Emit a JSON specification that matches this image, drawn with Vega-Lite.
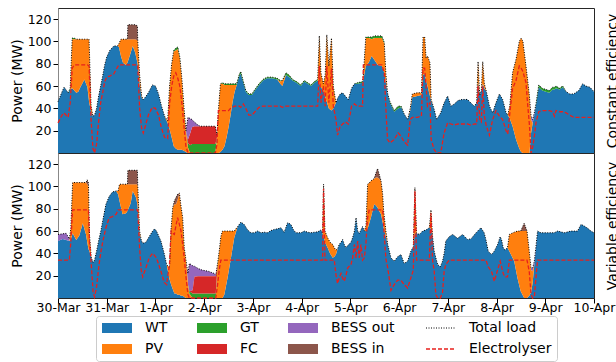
{
"$schema": "https://vega.github.io/schema/vega-lite/v6.json",
"padding": {"left": 9, "top": 7, "right": 0, "bottom": 0},
"datasets": {
"c": [
{"h":0,"WT":46,"Total load":46,"Electrolyser":27},
{"h":2,"WT":55,"Total load":55,"Electrolyser":34},
{"h":3,"WT":59,"Total load":59,"Electrolyser":36},
{"h":5,"WT":54,"Total load":54,"Electrolyser":32},
{"h":6,"WT":57,"GT":1,"Total load":58,"Electrolyser":45},
{"h":7,"WT":58,"PV":44,"GT":1,"Total load":103,"Electrolyser":76},
{"h":8,"WT":56,"PV":46,"GT":1,"Total load":103,"Electrolyser":79},
{"h":9,"WT":54,"PV":48,"Total load":102,"Electrolyser":79},
{"h":10,"WT":55,"PV":47,"Total load":102,"Electrolyser":79},
{"h":11,"WT":59,"PV":43,"Total load":102,"Electrolyser":79},
{"h":13,"WT":66,"PV":36,"Total load":102,"Electrolyser":79},
{"h":14.5,"WT":59,"PV":43,"Total load":102,"Electrolyser":79},
{"h":15.3,"WT":46,"PV":56,"Total load":102,"Electrolyser":78},
{"h":16.3,"WT":37,"PV":5,"Total load":42,"Electrolyser":30},
{"h":17.2,"WT":33,"Total load":33,"Electrolyser":4},
{"h":18,"WT":34,"Total load":34,"Electrolyser":0},
{"h":19,"WT":40,"Total load":40,"Electrolyser":8},
{"h":20,"WT":51,"Total load":51,"Electrolyser":28},
{"h":21,"WT":60,"Total load":60,"Electrolyser":45},
{"h":22,"WT":69,"Total load":69,"Electrolyser":54},
{"h":23,"WT":79,"Total load":79,"Electrolyser":64},
{"h":24,"WT":86,"Total load":86,"Electrolyser":68},
{"h":25.5,"WT":92,"Total load":92,"Electrolyser":69},
{"h":27.5,"WT":96,"Total load":96,"Electrolyser":71},
{"h":29.3,"WT":96,"Total load":96,"Electrolyser":77},
{"h":30,"WT":95,"PV":3,"Total load":98,"Electrolyser":79},
{"h":31,"WT":87,"PV":15,"Total load":102,"Electrolyser":79},
{"h":32,"WT":81,"PV":21,"Total load":102,"Electrolyser":79},
{"h":33.5,"WT":79,"PV":23,"Total load":102,"Electrolyser":79},
{"h":34.2,"WT":81,"PV":21,"Total load":102,"Electrolyser":79},
{"h":34.4,"WT":82,"PV":20,"BESS in":13,"Total load":115,"Electrolyser":79},
{"h":35.5,"WT":88,"PV":14,"BESS in":13,"Total load":115,"Electrolyser":79},
{"h":36.8,"WT":96,"PV":6,"BESS in":13,"Total load":115,"Electrolyser":79},
{"h":38,"WT":90,"PV":12,"BESS in":13,"Total load":115,"Electrolyser":79},
{"h":39.1,"WT":81,"PV":20,"BESS in":13,"Total load":114,"Electrolyser":79},
{"h":39.3,"WT":79,"PV":21,"Total load":100,"Electrolyser":78},
{"h":40.2,"WT":62,"PV":8,"Total load":70,"Electrolyser":40},
{"h":41.2,"WT":50,"PV":1,"Total load":51,"Electrolyser":22},
{"h":42,"WT":48,"Total load":48,"Electrolyser":18},
{"h":43,"WT":50,"Total load":50,"Electrolyser":24},
{"h":44.5,"WT":54,"Total load":54,"Electrolyser":34},
{"h":46.5,"WT":61,"Total load":61,"Electrolyser":41},
{"h":48,"WT":60,"Total load":60,"Electrolyser":40},
{"h":49.5,"WT":53,"Total load":53,"Electrolyser":34},
{"h":51,"WT":42,"Total load":42,"Electrolyser":22},
{"h":52.5,"WT":33,"Total load":33,"Electrolyser":14},
{"h":54,"WT":27,"PV":2,"Total load":29,"Electrolyser":13},
{"h":55,"WT":21,"PV":40,"Total load":61,"Electrolyser":45},
{"h":56,"WT":14,"PV":66,"Total load":80,"Electrolyser":60},
{"h":57,"WT":6,"PV":85,"GT":1,"Total load":92,"Electrolyser":69},
{"h":58,"WT":4,"PV":88,"GT":2,"Total load":94,"Electrolyser":72},
{"h":59,"WT":3,"PV":90,"GT":2,"Total load":95,"Electrolyser":67},
{"h":60,"WT":3,"PV":82,"GT":1,"Total load":86,"Electrolyser":60},
{"h":61,"WT":3,"PV":64,"Total load":67,"Electrolyser":45},
{"h":62,"WT":2,"PV":40,"Total load":42,"Electrolyser":25},
{"h":63,"WT":1,"PV":18,"GT":1,"Total load":20,"Electrolyser":6},
{"h":64,"PV":5,"GT":4,"FC":3,"BESS out":20,"Total load":32,"Electrolyser":0},
{"h":65,"GT":7,"FC":10,"BESS out":14,"Total load":31,"Electrolyser":0},
{"h":66,"GT":8,"FC":15,"BESS out":7,"Total load":30,"Electrolyser":0},
{"h":67,"GT":8,"FC":16,"BESS out":4,"Total load":28,"Electrolyser":0},
{"h":68,"GT":8,"FC":16,"BESS out":2.5,"Total load":26.5,"Electrolyser":0},
{"h":69,"GT":8,"FC":16,"BESS out":1,"Total load":25,"Electrolyser":0},
{"h":70,"GT":8,"FC":16,"Total load":24,"Electrolyser":0},
{"h":77.5,"GT":8,"FC":16,"Total load":24,"Electrolyser":0},
{"h":78.3,"PV":12,"GT":2,"FC":2,"Total load":16,"Electrolyser":8},
{"h":79,"PV":38,"Total load":38,"Electrolyser":38},
{"h":80,"WT":1,"PV":61,"Total load":62,"Electrolyser":38},
{"h":81,"WT":3,"PV":59,"GT":1,"Total load":63,"Electrolyser":38},
{"h":82,"WT":6,"PV":55,"GT":1,"Total load":62,"Electrolyser":38},
{"h":83,"WT":14,"PV":47,"GT":1,"Total load":62,"Electrolyser":38},
{"h":84,"WT":23,"PV":38,"GT":1,"Total load":62,"Electrolyser":38},
{"h":85,"WT":34,"PV":27,"GT":1,"Total load":62,"Electrolyser":40},
{"h":86,"WT":46,"PV":15,"GT":1,"Total load":62,"Electrolyser":41},
{"h":87,"WT":55,"PV":6,"GT":1,"Total load":62,"Electrolyser":42},
{"h":88,"WT":61,"GT":1,"Total load":62,"Electrolyser":42},
{"h":89.3,"WT":69,"GT":1.5,"Total load":70.5,"Electrolyser":42},
{"h":90,"WT":71,"GT":2,"Total load":73,"Electrolyser":41},
{"h":91.3,"WT":63,"GT":1,"Total load":64,"Electrolyser":44},
{"h":92.5,"WT":55,"GT":1,"Total load":56,"Electrolyser":40},
{"h":94,"WT":52,"GT":1,"Total load":53,"Electrolyser":34},
{"h":95.5,"WT":52,"GT":1,"Total load":53,"Electrolyser":34},
{"h":97,"WT":56,"GT":1,"Total load":57,"Electrolyser":37},
{"h":99,"WT":61,"GT":1,"Total load":62,"Electrolyser":41},
{"h":101,"WT":65,"GT":1,"Total load":66,"Electrolyser":42},
{"h":103,"WT":67,"GT":1,"Total load":68,"Electrolyser":42},
{"h":105.5,"WT":67,"GT":1,"Total load":68,"Electrolyser":42},
{"h":108,"WT":66,"GT":1,"Total load":67,"Electrolyser":42},
{"h":109.5,"WT":62,"PV":2,"GT":1,"Total load":65,"Electrolyser":42},
{"h":110.5,"WT":60,"PV":5,"Total load":65,"Electrolyser":41},
{"h":112.3,"WT":70,"GT":2,"Total load":72,"Electrolyser":42},
{"h":114,"WT":68,"GT":1.5,"Total load":69.5,"Electrolyser":42},
{"h":115.5,"WT":65,"GT":1,"Total load":66,"Electrolyser":42},
{"h":117.5,"WT":63,"GT":1,"Total load":64,"Electrolyser":42},
{"h":119.6,"WT":60,"GT":1,"Total load":61,"Electrolyser":42},
{"h":121.3,"WT":64,"GT":1,"Total load":65,"Electrolyser":42},
{"h":123,"WT":62,"GT":1,"Total load":63,"Electrolyser":42},
{"h":124.6,"WT":60,"GT":1,"Total load":61,"Electrolyser":42},
{"h":126.3,"WT":63,"GT":1,"Total load":64,"Electrolyser":42},
{"h":127.9,"WT":65,"GT":1,"Total load":66,"Electrolyser":42},
{"h":128.7,"WT":62,"PV":43,"Total load":105,"Electrolyser":78},
{"h":129.5,"WT":59,"PV":13,"Total load":72,"Electrolyser":45},
{"h":130.7,"WT":56,"PV":6,"Total load":62,"Electrolyser":60},
{"h":131.6,"WT":50,"PV":20,"Total load":70,"Electrolyser":42},
{"h":132.4,"WT":46,"PV":60,"Total load":106,"Electrolyser":78},
{"h":133.4,"WT":40,"PV":38,"Total load":78,"Electrolyser":45},
{"h":134.7,"WT":38,"PV":65,"Total load":103,"Electrolyser":76},
{"h":135.6,"WT":40,"PV":20,"Total load":60,"Electrolyser":42},
{"h":136.9,"WT":45,"Total load":45,"Electrolyser":30},
{"h":137.7,"WT":49,"Total load":49,"Electrolyser":16},
{"h":139,"WT":53,"Total load":53,"Electrolyser":24},
{"h":140.2,"WT":54,"Total load":54,"Electrolyser":26},
{"h":141.5,"WT":51,"Total load":51,"Electrolyser":28},
{"h":143,"WT":48,"Total load":48,"Electrolyser":26},
{"h":144.6,"WT":58,"Total load":58,"Electrolyser":42},
{"h":146,"WT":62,"Total load":62,"Electrolyser":44},
{"h":147.5,"WT":62,"GT":1,"Total load":63,"Electrolyser":42},
{"h":150,"WT":63,"GT":1,"Total load":64,"Electrolyser":42},
{"h":150.4,"WT":66,"PV":3,"GT":1,"Total load":70,"Electrolyser":79},
{"h":151.6,"WT":78,"PV":25,"GT":1,"Total load":104,"Electrolyser":79},
{"h":153,"WT":81,"PV":22,"GT":1,"Total load":104,"Electrolyser":79},
{"h":154.5,"WT":87,"PV":15,"GT":2,"Total load":104,"Electrolyser":79},
{"h":156,"WT":83,"PV":20,"GT":2,"Total load":105,"Electrolyser":79},
{"h":157.5,"WT":79,"PV":24,"GT":2,"Total load":105,"Electrolyser":79},
{"h":159.5,"WT":78,"PV":25,"GT":2,"Total load":105,"Electrolyser":79},
{"h":160.7,"WT":72,"PV":26,"GT":1,"Total load":99,"Electrolyser":72},
{"h":161.5,"WT":63,"PV":8,"Total load":71,"Electrolyser":40},
{"h":162.3,"WT":54,"Total load":54,"Electrolyser":12},
{"h":163.5,"WT":45,"GT":1,"Total load":46,"Electrolyser":9},
{"h":165.6,"WT":37,"GT":1,"Total load":38,"Electrolyser":12},
{"h":167.5,"WT":40,"GT":2,"Total load":42,"Electrolyser":18},
{"h":169,"WT":41,"GT":1,"Total load":42,"Electrolyser":15},
{"h":170.5,"WT":35,"Total load":35,"Electrolyser":10},
{"h":172.2,"WT":30,"Total load":30,"Electrolyser":7},
{"h":173.5,"WT":38,"PV":2,"Total load":40,"Electrolyser":30},
{"h":174.5,"WT":50,"PV":3,"Total load":53,"Electrolyser":32},
{"h":177,"WT":51,"PV":3,"Total load":54,"Electrolyser":32},
{"h":179,"WT":52,"PV":2,"Total load":54,"Electrolyser":33},
{"h":179.8,"WT":70,"PV":34,"Total load":104,"Electrolyser":76},
{"h":180.6,"WT":71,"PV":33,"Total load":104,"Electrolyser":76},
{"h":181.3,"WT":65,"PV":20,"Total load":85,"Electrolyser":60},
{"h":182,"WT":60,"PV":27,"Total load":87,"Electrolyser":42},
{"h":183.2,"WT":51,"PV":30,"Total load":81,"Electrolyser":45},
{"h":183.8,"WT":47,"PV":1,"Total load":48,"Electrolyser":12},
{"h":185.3,"WT":39,"Total load":39,"Electrolyser":3},
{"h":186.5,"WT":30,"Total load":30,"Electrolyser":0},
{"h":188.5,"WT":36,"Total load":36,"Electrolyser":0},
{"h":190.2,"WT":45,"Total load":45,"Electrolyser":18},
{"h":191.9,"WT":51,"Total load":51,"Electrolyser":27},
{"h":193.5,"WT":42,"Total load":42,"Electrolyser":26},
{"h":195.2,"WT":44,"Total load":44,"Electrolyser":25},
{"h":197,"WT":47,"Total load":47,"Electrolyser":26},
{"h":199,"WT":48,"Total load":48,"Electrolyser":26},
{"h":201.7,"WT":48,"Total load":48,"Electrolyser":26},
{"h":203.3,"WT":45,"Total load":45,"Electrolyser":25},
{"h":205,"WT":42,"Total load":42,"Electrolyser":26},
{"h":206.2,"WT":45,"Total load":45,"Electrolyser":26},
{"h":206.9,"WT":64,"PV":18,"Total load":82,"Electrolyser":60},
{"h":207.7,"WT":52,"Total load":52,"Electrolyser":30},
{"h":208.5,"WT":56,"Total load":56,"Electrolyser":28},
{"h":209.2,"WT":62,"PV":20,"Total load":82,"Electrolyser":60},
{"h":210,"WT":58,"PV":4,"Total load":62,"Electrolyser":33},
{"h":211,"WT":55,"Total load":55,"Electrolyser":24},
{"h":212.5,"WT":42,"Total load":42,"Electrolyser":16},
{"h":214.1,"WT":36,"Total load":36,"Electrolyser":30},
{"h":215.7,"WT":45,"Total load":45,"Electrolyser":38},
{"h":217.4,"WT":53,"Total load":53,"Electrolyser":33},
{"h":219,"WT":48,"Total load":48,"Electrolyser":30},
{"h":220.7,"WT":36,"Total load":36,"Electrolyser":20},
{"h":221.5,"WT":34,"Total load":34,"Electrolyser":17},
{"h":222.5,"WT":31,"PV":11,"Total load":42,"Electrolyser":35},
{"h":223.9,"WT":24,"PV":48,"Total load":72,"Electrolyser":58},
{"h":225.6,"WT":12,"PV":72,"Total load":84,"Electrolyser":65},
{"h":227.2,"WT":4,"PV":96,"Total load":100,"Electrolyser":78},
{"h":228.1,"WT":1,"PV":102,"Total load":103,"Electrolyser":76},
{"h":229,"PV":100,"Total load":100,"Electrolyser":73},
{"h":230.5,"PV":78,"Total load":78,"Electrolyser":63},
{"h":231.4,"PV":64,"Total load":64,"Electrolyser":42},
{"h":232.2,"PV":51,"Total load":51,"Electrolyser":25},
{"h":233,"WT":18,"PV":12,"BESS out":3,"Total load":33,"Electrolyser":0},
{"h":233.8,"WT":27,"BESS out":3,"Total load":30,"Electrolyser":5},
{"h":234.6,"WT":34,"BESS out":2,"Total load":36,"Electrolyser":15},
{"h":235.5,"WT":44,"GT":1,"Total load":45,"Electrolyser":28},
{"h":236.8,"WT":59,"GT":2,"Total load":61,"Electrolyser":37},
{"h":238.5,"WT":56,"GT":2,"Total load":58,"Electrolyser":38},
{"h":240.3,"WT":55,"GT":2,"Total load":57,"Electrolyser":38},
{"h":242,"WT":54,"GT":2,"Total load":56,"Electrolyser":38},
{"h":243.6,"WT":57,"GT":2,"Total load":59,"Electrolyser":37},
{"h":244.5,"WT":57,"GT":2,"Total load":59,"Electrolyser":33},
{"h":245.3,"WT":58,"GT":2,"Total load":60,"Electrolyser":38},
{"h":247,"WT":57,"GT":1,"Total load":58,"Electrolyser":37},
{"h":248.6,"WT":59,"GT":1,"Total load":60,"Electrolyser":37},
{"h":250.3,"WT":55,"Total load":55,"Electrolyser":36},
{"h":252,"WT":53,"Total load":53,"Electrolyser":34},
{"h":254,"WT":53,"Total load":53,"Electrolyser":32},
{"h":256.5,"WT":56,"Total load":56,"Electrolyser":32},
{"h":258.4,"WT":62,"Total load":62,"Electrolyser":32},
{"h":260,"WT":60,"Total load":60,"Electrolyser":32},
{"h":262,"WT":59,"Total load":59,"Electrolyser":32},
{"h":264,"WT":55,"Total load":55,"Electrolyser":32}
],
"v": [
{"h":0,"WT":51,"BESS out":6,"Total load":57,"Electrolyser":34},
{"h":2.3,"WT":53,"BESS out":4.5,"Total load":57.5,"Electrolyser":34},
{"h":4,"WT":52,"BESS out":6,"Total load":58,"Electrolyser":34},
{"h":5.6,"WT":51,"BESS out":2,"Total load":53,"Electrolyser":34},
{"h":6.3,"WT":52,"PV":10,"Total load":62,"Electrolyser":50},
{"h":7.2,"WT":58,"PV":45.5,"Total load":103.5,"Electrolyser":79},
{"h":9,"WT":52,"PV":51.5,"Total load":103.5,"Electrolyser":79},
{"h":10.5,"WT":56,"PV":47.5,"Total load":103.5,"Electrolyser":79},
{"h":12.2,"WT":67,"PV":36.5,"Total load":103.5,"Electrolyser":79},
{"h":13.8,"WT":57,"PV":46.5,"Total load":103.5,"Electrolyser":79},
{"h":14.4,"WT":50,"PV":52,"BESS in":4,"Total load":106,"Electrolyser":79},
{"h":15,"WT":44,"PV":56,"BESS in":3,"Total load":103,"Electrolyser":79},
{"h":15.5,"WT":42,"PV":15,"Total load":57,"Electrolyser":50},
{"h":16.4,"WT":36,"Total load":36,"Electrolyser":30},
{"h":17.3,"WT":32,"Total load":32,"Electrolyser":5},
{"h":18,"WT":34,"Total load":34,"Electrolyser":1},
{"h":19,"WT":42,"Total load":42,"Electrolyser":10},
{"h":20.2,"WT":53,"Total load":53,"Electrolyser":30},
{"h":21.2,"WT":61,"Total load":61,"Electrolyser":42},
{"h":22.1,"WT":70,"Total load":70,"Electrolyser":51},
{"h":23.6,"WT":84,"Total load":84,"Electrolyser":63},
{"h":25.2,"WT":91,"Total load":91,"Electrolyser":72},
{"h":26.8,"WT":95,"Total load":95,"Electrolyser":73},
{"h":28.6,"WT":96,"Total load":96,"Electrolyser":75},
{"h":29.6,"WT":93,"PV":3,"Total load":96,"Electrolyser":79},
{"h":30.3,"WT":87,"PV":15,"Total load":102,"Electrolyser":79},
{"h":31.8,"WT":75,"PV":27,"Total load":102,"Electrolyser":79},
{"h":33.5,"WT":76,"PV":26,"Total load":102,"Electrolyser":79},
{"h":34.2,"WT":78,"PV":24,"Total load":102,"Electrolyser":79},
{"h":34.4,"WT":79,"PV":23,"BESS in":12.5,"Total load":114.5,"Electrolyser":79},
{"h":35.8,"WT":85,"PV":17,"BESS in":12.5,"Total load":114.5,"Electrolyser":79},
{"h":36.8,"WT":96,"PV":6,"BESS in":12.5,"Total load":114.5,"Electrolyser":79},
{"h":38.4,"WT":90,"PV":12,"BESS in":12.5,"Total load":114.5,"Electrolyser":79},
{"h":39.1,"WT":84,"PV":18,"BESS in":12.5,"Total load":114.5,"Electrolyser":79},
{"h":39.3,"WT":80,"PV":20,"Total load":100,"Electrolyser":78},
{"h":40.2,"WT":57,"PV":3,"Total load":60,"Electrolyser":45},
{"h":41,"WT":52,"Total load":52,"Electrolyser":25},
{"h":41.7,"WT":49,"Total load":49,"Electrolyser":19},
{"h":43.3,"WT":50,"Total load":50,"Electrolyser":27},
{"h":44.9,"WT":55,"Total load":55,"Electrolyser":36},
{"h":46.6,"WT":60,"Total load":60,"Electrolyser":40},
{"h":47.6,"WT":62,"Total load":62,"Electrolyser":38},
{"h":48.5,"WT":60,"Total load":60,"Electrolyser":36},
{"h":50.7,"WT":51,"Total load":51,"Electrolyser":24},
{"h":52.3,"WT":40,"Total load":40,"Electrolyser":14},
{"h":53.5,"WT":30,"Total load":30,"Electrolyser":12},
{"h":54.9,"WT":17,"PV":10,"Total load":27,"Electrolyser":30},
{"h":55.7,"WT":12,"PV":50,"Total load":62,"Electrolyser":60},
{"h":56.5,"WT":8,"PV":73,"Total load":81,"Electrolyser":58},
{"h":57.3,"WT":4,"PV":80,"BESS in":3,"Total load":87,"Electrolyser":57},
{"h":58.1,"WT":4,"PV":80,"BESS in":6,"Total load":90,"Electrolyser":65},
{"h":58.9,"WT":3,"PV":85,"BESS in":5,"Total load":93,"Electrolyser":72},
{"h":59.8,"WT":3,"PV":91,"Total load":94,"Electrolyser":66},
{"h":60.6,"WT":2,"PV":80,"Total load":82,"Electrolyser":60},
{"h":61.4,"WT":2,"PV":70,"Total load":72,"Electrolyser":48},
{"h":62.2,"WT":1,"PV":44,"Total load":45,"Electrolyser":35},
{"h":63.1,"PV":33,"Total load":33,"Electrolyser":18},
{"h":64,"PV":12,"BESS out":10,"Total load":22,"Electrolyser":3},
{"h":64.7,"PV":4,"GT":2,"BESS out":25,"Total load":31,"Electrolyser":0},
{"h":66.3,"GT":4,"FC":3,"BESS out":22,"Total load":29,"Electrolyser":0},
{"h":67.2,"GT":4,"FC":15,"BESS out":9.5,"Total load":28.5,"Electrolyser":0},
{"h":69,"GT":4,"FC":15.5,"BESS out":7,"Total load":26.5,"Electrolyser":0},
{"h":71,"GT":4,"FC":15.5,"BESS out":5.5,"Total load":25,"Electrolyser":0},
{"h":74,"GT":4,"FC":15.5,"BESS out":4.5,"Total load":24,"Electrolyser":0},
{"h":77,"GT":4,"FC":15.5,"BESS out":2.5,"Total load":22,"Electrolyser":0},
{"h":77.7,"GT":4,"FC":15.5,"BESS out":1,"Total load":20.5,"Electrolyser":0},
{"h":78.6,"PV":30,"GT":1,"Total load":31,"Electrolyser":12},
{"h":79.4,"PV":42,"Total load":42,"Electrolyser":25},
{"h":80.2,"PV":55,"Total load":55,"Electrolyser":34},
{"h":81,"PV":60,"Total load":60,"Electrolyser":34},
{"h":81.9,"WT":3,"PV":57,"Total load":60,"Electrolyser":34},
{"h":83.5,"WT":18,"PV":42,"Total load":60,"Electrolyser":34},
{"h":85.2,"WT":36,"PV":24,"Total load":60,"Electrolyser":34},
{"h":86.8,"WT":54,"PV":6,"Total load":60,"Electrolyser":34},
{"h":88.5,"WT":64,"Total load":64,"Electrolyser":34},
{"h":90.1,"WT":68,"Total load":68,"Electrolyser":34},
{"h":91.7,"WT":66,"Total load":66,"Electrolyser":34},
{"h":93.4,"WT":61,"Total load":61,"Electrolyser":34},
{"h":95,"WT":58.5,"Total load":58.5,"Electrolyser":34},
{"h":96.7,"WT":58.5,"Total load":58.5,"Electrolyser":34},
{"h":98.3,"WT":60,"Total load":60,"Electrolyser":34},
{"h":100,"WT":58.5,"Total load":58.5,"Electrolyser":34},
{"h":101.6,"WT":59,"Total load":59,"Electrolyser":34},
{"h":103.2,"WT":58.5,"Total load":58.5,"Electrolyser":34},
{"h":104.9,"WT":60.5,"Total load":60.5,"Electrolyser":34},
{"h":106.5,"WT":61.5,"Total load":61.5,"Electrolyser":34},
{"h":108.1,"WT":62,"Total load":62,"Electrolyser":34},
{"h":109.8,"WT":63,"Total load":63,"Electrolyser":34},
{"h":111.4,"WT":59,"Total load":59,"Electrolyser":34},
{"h":113.1,"WT":67.5,"Total load":67.5,"Electrolyser":34},
{"h":114.7,"WT":66,"Total load":66,"Electrolyser":34},
{"h":116,"WT":61,"Total load":61,"Electrolyser":34},
{"h":117.2,"WT":58.5,"Total load":58.5,"Electrolyser":34},
{"h":119.7,"WT":58.5,"Total load":58.5,"Electrolyser":34},
{"h":121.3,"WT":60,"Total load":60,"Electrolyser":34},
{"h":123,"WT":59,"Total load":59,"Electrolyser":34},
{"h":124.6,"WT":58.5,"Total load":58.5,"Electrolyser":34},
{"h":126.3,"WT":59,"Total load":59,"Electrolyser":34},
{"h":127.9,"WT":59.3,"Total load":59.3,"Electrolyser":34},
{"h":129.5,"WT":61,"Total load":61,"Electrolyser":34},
{"h":130.3,"WT":58,"Total load":58,"Electrolyser":34},
{"h":130.8,"WT":55,"PV":47,"Total load":102,"Electrolyser":98},
{"h":131.5,"WT":50,"PV":10,"Total load":60,"Electrolyser":34},
{"h":132.8,"WT":45,"PV":9,"Total load":54,"Electrolyser":34},
{"h":134,"WT":40,"PV":10,"Total load":50,"Electrolyser":34},
{"h":135.3,"WT":36,"PV":12,"Total load":48,"Electrolyser":34},
{"h":136.1,"WT":37,"PV":8,"Total load":45,"Electrolyser":34},
{"h":136.9,"WT":39,"PV":4,"Total load":43,"Electrolyser":21},
{"h":137.7,"WT":44,"Total load":44,"Electrolyser":13},
{"h":138.5,"WT":48,"Total load":48,"Electrolyser":18},
{"h":139.4,"WT":50,"Total load":50,"Electrolyser":22},
{"h":140.2,"WT":52.5,"Total load":52.5,"Electrolyser":18},
{"h":141,"WT":48,"Total load":48,"Electrolyser":15},
{"h":141.8,"WT":45,"Total load":45,"Electrolyser":20},
{"h":142.7,"WT":47,"Total load":47,"Electrolyser":27},
{"h":144.3,"WT":50,"Total load":50,"Electrolyser":30},
{"h":145.1,"WT":54,"Total load":54,"Electrolyser":36},
{"h":146,"WT":60,"Total load":60,"Electrolyser":48},
{"h":146.8,"WT":72,"Total load":72,"Electrolyser":36},
{"h":147.6,"WT":60,"Total load":60,"Electrolyser":51},
{"h":148.4,"WT":58,"Total load":58,"Electrolyser":36},
{"h":149.2,"WT":61,"Total load":61,"Electrolyser":48},
{"h":150,"WT":64,"Total load":64,"Electrolyser":34},
{"h":150.9,"WT":60,"Total load":60,"Electrolyser":36},
{"h":151.7,"WT":60,"PV":5,"Total load":65,"Electrolyser":50},
{"h":152.5,"WT":62,"PV":40,"Total load":102,"Electrolyser":72},
{"h":153.3,"WT":67,"PV":36,"Total load":103,"Electrolyser":79},
{"h":154.1,"WT":72,"PV":33,"Total load":105,"Electrolyser":79},
{"h":155.7,"WT":84,"PV":23,"Total load":107,"Electrolyser":79},
{"h":156.6,"WT":83,"PV":25,"BESS in":4,"Total load":112,"Electrolyser":79},
{"h":157.4,"WT":81,"PV":27,"BESS in":8,"Total load":116,"Electrolyser":79},
{"h":158.2,"WT":78,"PV":29,"BESS in":4,"Total load":111,"Electrolyser":79},
{"h":159.1,"WT":75,"PV":30,"Total load":105,"Electrolyser":79},
{"h":159.9,"WT":68,"PV":25,"Total load":93,"Electrolyser":79},
{"h":160.4,"WT":63,"PV":15,"Total load":78,"Electrolyser":65},
{"h":161.5,"WT":55,"PV":5,"Total load":60,"Electrolyser":35},
{"h":162.4,"WT":48,"Total load":48,"Electrolyser":27},
{"h":164,"WT":36,"Total load":36,"Electrolyser":7},
{"h":165.6,"WT":33,"Total load":33,"Electrolyser":12},
{"h":167.3,"WT":37,"Total load":37,"Electrolyser":16},
{"h":168.9,"WT":39,"Total load":39,"Electrolyser":16},
{"h":170.5,"WT":31,"Total load":31,"Electrolyser":12},
{"h":172.2,"WT":33,"Total load":33,"Electrolyser":9},
{"h":173.8,"WT":42,"Total load":42,"Electrolyser":18},
{"h":175,"WT":46,"Total load":46,"Electrolyser":25},
{"h":175.8,"WT":58,"PV":41,"Total load":99,"Electrolyser":96},
{"h":176.6,"WT":58,"Total load":58,"Electrolyser":34},
{"h":178,"WT":57,"Total load":57,"Electrolyser":34},
{"h":179.6,"WT":60,"Total load":60,"Electrolyser":34},
{"h":181.2,"WT":61,"Total load":61,"Electrolyser":34},
{"h":182.9,"WT":63,"Total load":63,"Electrolyser":34},
{"h":183.7,"WT":62,"PV":17,"Total load":79,"Electrolyser":76},
{"h":184.5,"WT":55,"Total load":55,"Electrolyser":34},
{"h":185.3,"WT":42,"Total load":42,"Electrolyser":24},
{"h":186.1,"WT":36,"Total load":36,"Electrolyser":3},
{"h":187,"WT":30,"Total load":30,"Electrolyser":0},
{"h":188.3,"WT":28,"Total load":28,"Electrolyser":0},
{"h":189.4,"WT":33,"Total load":33,"Electrolyser":5},
{"h":190.2,"WT":40,"Total load":40,"Electrolyser":24},
{"h":191,"WT":51,"Total load":51,"Electrolyser":30},
{"h":192.7,"WT":55,"Total load":55,"Electrolyser":34},
{"h":194.4,"WT":57,"Total load":57,"Electrolyser":34},
{"h":196.8,"WT":53.5,"Total load":53.5,"Electrolyser":34},
{"h":199.3,"WT":57,"Total load":57,"Electrolyser":34},
{"h":201.7,"WT":52.5,"Total load":52.5,"Electrolyser":34},
{"h":203.4,"WT":53,"Total load":53,"Electrolyser":34},
{"h":205.9,"WT":58.5,"Total load":58.5,"Electrolyser":34},
{"h":208.3,"WT":63,"Total load":63,"Electrolyser":34},
{"h":209.9,"WT":58.5,"Total load":58.5,"Electrolyser":34},
{"h":210.8,"WT":52,"Total load":52,"Electrolyser":34},
{"h":211.9,"WT":42,"Total load":42,"Electrolyser":28},
{"h":213.5,"WT":39,"Total load":39,"Electrolyser":24},
{"h":214.9,"WT":42,"Total load":42,"Electrolyser":15},
{"h":216.5,"WT":48,"Total load":48,"Electrolyser":25},
{"h":217.8,"WT":55,"Total load":55,"Electrolyser":33},
{"h":218.5,"WT":52,"Total load":52,"Electrolyser":28},
{"h":219.3,"WT":45,"Total load":45,"Electrolyser":22},
{"h":220.1,"WT":43,"Total load":43,"Electrolyser":19},
{"h":221.4,"WT":45,"Total load":45,"Electrolyser":19},
{"h":222.3,"WT":42,"PV":15,"Total load":57,"Electrolyser":34},
{"h":224.7,"WT":33,"PV":26,"Total load":59,"Electrolyser":34},
{"h":226.3,"WT":18,"PV":42,"Total load":60,"Electrolyser":34},
{"h":227.9,"WT":6,"PV":54,"Total load":60,"Electrolyser":34},
{"h":229.6,"PV":60,"BESS in":7,"Total load":67,"Electrolyser":34},
{"h":231,"PV":60,"Total load":60,"Electrolyser":34},
{"h":232.1,"WT":2,"PV":40,"Total load":42,"Electrolyser":24},
{"h":233,"WT":5,"PV":20,"BESS out":2,"Total load":27,"Electrolyser":3},
{"h":233.8,"WT":14,"PV":10,"BESS out":3,"Total load":27,"Electrolyser":0},
{"h":234.6,"WT":30,"BESS out":3,"Total load":33,"Electrolyser":1},
{"h":235.4,"WT":45,"BESS out":1,"Total load":46,"Electrolyser":18},
{"h":236.2,"WT":60,"Total load":60,"Electrolyser":34},
{"h":237.8,"WT":58.5,"Total load":58.5,"Electrolyser":34},
{"h":241.1,"WT":58.5,"Total load":58.5,"Electrolyser":34},
{"h":244.4,"WT":58.5,"Total load":58.5,"Electrolyser":34},
{"h":246.1,"WT":60,"Total load":60,"Electrolyser":34},
{"h":249.4,"WT":58.5,"Total load":58.5,"Electrolyser":34},
{"h":252.6,"WT":60,"Total load":60,"Electrolyser":34},
{"h":255.9,"WT":60,"Total load":60,"Electrolyser":34},
{"h":257.6,"WT":66,"Total load":66,"Electrolyser":34},
{"h":259.2,"WT":64.5,"Total load":64.5,"Electrolyser":34},
{"h":260.9,"WT":62.5,"Total load":62.5,"Electrolyser":34},
{"h":262.5,"WT":60,"Total load":60,"Electrolyser":34},
{"h":264,"WT":58.5,"Total load":58.5,"Electrolyser":34}
]
},
"vconcat": [
{
"width": 536, "height": 145,
"data": {"name": "c"},
"layer": [
{
"transform": [{"fold": ["WT","PV","GT","FC","BESS out","BESS in"], "as": ["k","val"]}, {"filter": "isValid(datum.val)"}],
"mark": {"type": "area", "interpolate": "linear"},
"encoding": {
"x": {"field": "h", "type": "quantitative", "scale": {"domain": [0,264], "nice": false, "zero": false}, "axis": null},
"y": {"field": "val", "type": "quantitative", "stack": "zero", "scale": {"domain": [0,130], "nice": false}, "axis": {"values": [20,40,60,80,100,120], "title": "Power (MW)", "titlePadding": 3, "labelPadding": 2}},
"color": {"field": "k", "type": "nominal",
"scale": {"domain": ["WT","GT","BESS out","Total load","PV","FC","BESS in","Electrolyser"], "range": ["#1f77b4","#2ca02c","#9467bd","#000000","#ff7f0e","#d62728","#8c564b","#e8201c"]},
"legend": {"title": null, "orient": "bottom", "direction": "horizontal", "columns": 4, "labelFontSize": 14, "labelFont": "DejaVu Sans", "labelColor": "black", "symbolSize": 144, "columnPadding": 28, "rowPadding": 7, "labelOffset": 30, "padding": 5, "strokeColor": "#cccccc", "cornerRadius": 3, "offset": 2,
"encode": {"symbols": {"update": {
"shape": {"signal": "indexof(['Total load','Electrolyser'], datum.value) >= 0 ? 'M-1,0H4' : 'M-1,-0.833H4V0.833H-1Z'"},
"fill": {"signal": "indexof(['Total load','Electrolyser'], datum.value) >= 0 ? 'transparent' : scale('color', datum.value)"},
"stroke": {"signal": "scale('color', datum.value)"},
"strokeWidth": {"signal": "datum.value === 'Electrolyser' ? 1.5 : datum.value === 'Total load' ? 1 : 0"},
"strokeDash": {"signal": "datum.value === 'Total load' ? [1,1.5] : datum.value === 'Electrolyser' ? [4,2] : [1,0]"},
"opacity": {"value": 1}
}}}}},
"order": {"field": "k", "sort": "descending"}
}
},
{
"transform": [{"fold": ["Total load","Electrolyser"], "as": ["k","val"]}],
"mark": {"type": "line", "interpolate": "linear"},
"encoding": {
"x": {"field": "h", "type": "quantitative", "scale": {"domain": [0,264], "nice": false, "zero": false}, "axis": null},
"y": {"field": "val", "type": "quantitative", "scale": {"domain": [0,130], "nice": false}, "axis": {"orient": "right", "title": "Constant efficiency", "labels": false, "ticks": false, "domain": false, "grid": false, "titleAngle": 270, "titleBaseline": "top", "titlePadding": 11}},
"color": {"field": "k", "type": "nominal"},
"strokeDash": {"field": "k", "type": "nominal", "scale": {"domain": ["Total load","Electrolyser"], "range": [[1,1.5],[4,2]]}, "legend": null},
"strokeWidth": {"field": "k", "type": "nominal", "scale": {"domain": ["Total load","Electrolyser"], "range": [1,1.3]}, "legend": null}
}
}
],
"resolve": {"axis": {"y": "independent"}}
},
{
"width": 536, "height": 145,
"data": {"name": "v"},
"layer": [
{
"transform": [{"fold": ["WT","PV","GT","FC","BESS out","BESS in"], "as": ["k","val"]}, {"filter": "isValid(datum.val)"}],
"mark": {"type": "area", "interpolate": "linear"},
"encoding": {
"x": {"field": "h", "type": "quantitative", "scale": {"domain": [0,264], "nice": false, "zero": false}, "axis": {"values": [0,24,48,72,96,120,144,168,192,216,240,264], "labelExpr": "utcFormat(utc(2024,2,30) + datum.value*3600000, '%-d-%b')", "title": null, "grid": false, "domain": false, "labelPadding": -2, "labelOverlap": false, "labelFlush": false, "labelBound": false}},
"y": {"field": "val", "type": "quantitative", "stack": "zero", "scale": {"domain": [0,130], "nice": false}, "axis": {"values": [20,40,60,80,100,120], "title": "Power (MW)", "titlePadding": 3, "labelPadding": 2}},
"color": {"field": "k", "type": "nominal"},
"order": {"field": "k", "sort": "descending"}
}
},
{
"transform": [{"fold": ["Total load","Electrolyser"], "as": ["k","val"]}],
"mark": {"type": "line", "interpolate": "linear"},
"encoding": {
"x": {"field": "h", "type": "quantitative", "scale": {"domain": [0,264], "nice": false, "zero": false}, "axis": {"values": [0,24,48,72,96,120,144,168,192,216,240,264], "labelExpr": "utcFormat(utc(2024,2,30) + datum.value*3600000, '%-d-%b')", "title": null, "grid": false, "domain": false, "labelPadding": -2, "labelOverlap": false, "labelFlush": false, "labelBound": false}},
"y": {"field": "val", "type": "quantitative", "scale": {"domain": [0,130], "nice": false}, "axis": {"orient": "right", "title": "Variable efficiency", "labels": false, "ticks": false, "domain": false, "grid": false, "titleAngle": 270, "titleBaseline": "top", "titlePadding": 11}},
"color": {"field": "k", "type": "nominal"},
"strokeDash": {"field": "k", "type": "nominal", "scale": {"domain": ["Total load","Electrolyser"], "range": [[1,1.5],[4,2]]}, "legend": null},
"strokeWidth": {"field": "k", "type": "nominal", "scale": {"domain": ["Total load","Electrolyser"], "range": [1,1.3]}, "legend": null}
}
}
],
"resolve": {"axis": {"y": "independent"}}
}
],
"spacing": 0,
"bounds": "flush",
"resolve": {"scale": {"color": "shared"}, "legend": {"color": "shared"}},
"config": {
"view": {"stroke": "#262626", "strokeWidth": 1},
"axis": {"grid": false, "labelFont": "DejaVu Sans", "labelFontSize": 12.5, "labelColor": "black", "tickColor": "black", "tickSize": 5, "titleFont": "DejaVu Sans", "titleFontSize": 14, "titleFontWeight": "normal", "titleColor": "black"},
"legend": {"layout": {"bottom": {"anchor": "middle"}}},
"text": {"font": "DejaVu Sans"}
}
}
